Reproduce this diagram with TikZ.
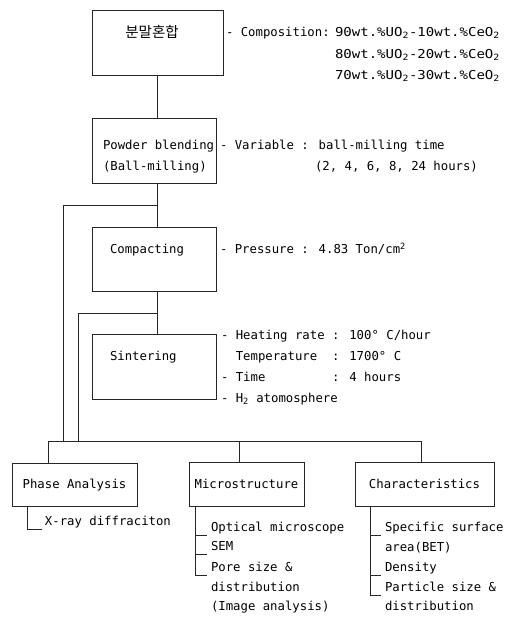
\documentclass[tikz,border=0pt]{standalone}
\usepackage{fontspec}
\usepackage{graphicx}
\setmainfont{DejaVu Sans Mono}
\newfontfamily\kofont{Noto Sans CJK KR}
\newcommand{\compo}[2]{\scalebox{1.14}[1]{#1wt.\%UO\textsubscript{2}-#2wt.\%CeO\textsubscript{2}}}
\begin{document}
\begin{tikzpicture}[x=1pt,y=-1pt,
  font=\fontsize{12.3}{14}\selectfont,
  every node/.style={inner sep=0pt, outer sep=0pt},
  ln/.style={line width=0.8pt, draw=black!85},
  box/.style={ln, draw, rectangle},
  txt/.style={anchor=base west}]
\useasboundingbox (0,0) rectangle (508,619);
% boxes
\node[box, minimum width=131pt, minimum height=65pt] (b1) at (157.5,42.5) {};
\node[box, minimum width=124pt, minimum height=65pt] (b2) at (154,150.5) {};
\node[box, minimum width=124pt, minimum height=64pt] (b3) at (154,259) {};
\node[box, minimum width=124pt, minimum height=65pt] (b4) at (154,367) {};
\node[box, minimum width=125pt, minimum height=43pt] (b5) at (74.5,484.5) {};
\node[box, minimum width=115pt, minimum height=44pt] (b6) at (246.5,484.5) {};
\node[box, minimum width=139pt, minimum height=44pt] (b7) at (424.5,484.5) {};
% box texts
\node[anchor=base, font=\kofont\fontsize{14.5}{16}\selectfont] (t1) at (152,37) {분말혼합};
\node[txt] (t2a) at (103,149.5) {Powder blending};
\node[txt] (t2b) at (103,170.5) {(Ball-milling)};
\node[txt] (t3) at (110,253.5) {Compacting};
\node[txt] (t4) at (110,360.5) {Sintering};
\node[anchor=base] (t5) at (74.5,488.5) {Phase Analysis};
\node[anchor=base] (t6) at (246.5,488.5) {Microstructure};
\node[anchor=base] (t7) at (424.5,488.5) {Characteristics};
% side notes
\node[txt] (c0) at (226,36.5) {- Composition:};
\node[txt] (c1) at (335,36.5) {\compo{90}{10}};
\node[txt] (c2) at (335,58.5) {\compo{80}{20}};
\node[txt] (c3) at (335,79.5) {\compo{70}{30}};
\node[txt] (v1) at (220,149.5) {- Variable : ball-milling time};
\node[txt] (v2) at (315,170.5) {(2, 4, 6, 8, 24 hours)};
\node[txt] (p1) at (220,253.5) {- Pressure : 4.83 Ton/cm\textsuperscript{2}};
\node[txt] (s1) at (221,339.5) {- Heating rate : 100° C/hour};
\node[txt] (s2) at (221,360.5) {\phantom{- }Temperature\phantom{ } : 1700° C};
\node[txt] (s3) at (221,381.5) {- Time\phantom{mmmmmmmm} : 4 hours};
\node[txt] (s4) at (221,402.5) {- H\textsubscript{2} atomosphere};
% result lists
\node[txt] (x1) at (45,525.5) {X-ray diffraciton};
\node[txt] (m1) at (211,531.5) {Optical microscope};
\node[txt] (m2) at (211,550.5) {SEM};
\node[txt] (m3) at (211,571.5) {Pore size \&};
\node[txt] (m4) at (211,591.5) {distribution};
\node[txt] (m5) at (211,610.5) {(Image analysis)};
\node[txt] (k1) at (385,531.5) {Specific surface};
\node[txt] (k2) at (385,551.5) {area(BET)};
\node[txt] (k3) at (385,571.5) {Density};
\node[txt] (k4) at (385,591.5) {Particle size \&};
\node[txt] (k5) at (385,610.5) {distribution};
% junction coordinates
\coordinate (ax) at (157,0);
\coordinate (j1) at (157,205);
\coordinate (j2) at (157,313);
\coordinate (l1) at (63,441);
\coordinate (l2) at (78,441);
\coordinate (busL) at (48,441);
\coordinate (busM) at (239,441);
\coordinate (busR) at (421,441);
\coordinate (pv) at (27,0);
\coordinate (mv) at (195,0);
\coordinate (kv) at (370,0);
% connectors
\draw[ln] (ax |- b1.south) -- (ax |- b2.north);
\draw[ln] (ax |- b2.south) -- (ax |- b3.north);
\draw[ln] (ax |- b3.south) -- (ax |- b4.north);
\draw[ln] (j1) -| (l1);
\draw[ln] (j2) -| (l2);
\draw[ln] (busL) -- (busR);
\draw[ln] (busL) -- (busL |- b5.north);
\draw[ln] (busM) -- (busM |- b6.north);
\draw[ln] (busR) -- (busR |- b7.north);
\draw[ln] (pv |- b5.south) |- ([xshift=-3pt,yshift=-4pt]x1.base west);
\draw[ln] (mv |- b6.south) -- ([yshift=-4pt]mv |- m3.base west);
\draw[ln] ([yshift=-4pt]mv |- m1.base west) -- ([xshift=-4pt,yshift=-4pt]m1.base west);
\draw[ln] ([yshift=-4pt]mv |- m2.base west) -- ([xshift=-4pt,yshift=-4pt]m2.base west);
\draw[ln] ([yshift=-4pt]mv |- m3.base west) -- ([xshift=-4pt,yshift=-4pt]m3.base west);
\draw[ln] (kv |- b7.south) -- ([yshift=-4pt]kv |- k4.base west);
\draw[ln] ([yshift=-4pt]kv |- k1.base west) -- ([xshift=-4pt,yshift=-4pt]k1.base west);
\draw[ln] ([yshift=-4pt]kv |- k3.base west) -- ([xshift=-4pt,yshift=-4pt]k3.base west);
\draw[ln] ([yshift=-4pt]kv |- k4.base west) -- ([xshift=-4pt,yshift=-4pt]k4.base west);
\end{tikzpicture}
\end{document}
